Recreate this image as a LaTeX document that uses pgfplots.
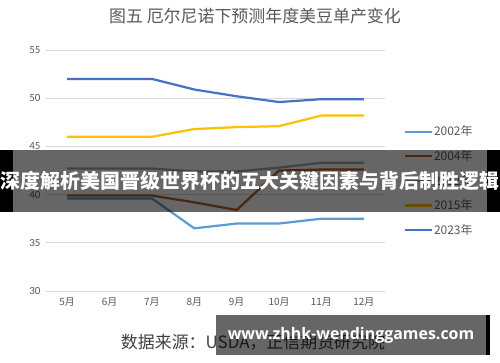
\documentclass[border=0pt]{standalone}
\usepackage{pgfplots}
\pgfplotsset{compat=1.18}
\usepackage{fontspec}
\setmainfont{Carlito}
\newfontfamily\cjk{Noto Sans CJK SC}
\newfontfamily\wm{Open Sans}
\definecolor{c2002}{HTML}{5B9BD5}
\definecolor{c2004}{HTML}{B4602A}
\definecolor{c2012}{HTML}{A5A5A5}
\definecolor{c2015}{HTML}{FFC000}
\definecolor{c2023}{HTML}{4472C4}
\definecolor{tick}{HTML}{595959}
\definecolor{gridc}{HTML}{D9D9D9}
\begin{document}
\begin{tikzpicture}[x=1bp,y=1bp]
\useasboundingbox (0,0) rectangle (500,362);
\fill[white] (0,0) rectangle (500,362);
\begin{axis}[
  at={(46bp,71bp)}, anchor=south west,
  scale only axis, width=339bp, height=241bp,
  xmin=-0.5, xmax=7.5, ymin=30, ymax=55,
  xtick={0,...,7},
  xticklabels={5月,6月,7月,8月,9月,10月,11月,12月},
  ytick={30,35,40,45,50,55},
  axis line style={draw=none},
  tick style={draw=none},
  ymajorgrids, grid style={gridc, line width=0.8bp},
  ticklabel style={font=\cjk\fontsize{10}{12}\selectfont, text=tick},
  yticklabel style={font=\fontsize{11}{13}\selectfont, xshift=-2bp},
  xticklabel style={yshift=-3bp},
  /pgf/number format/assume math mode=true,
  legend style={at={(1.055,0.69)}, anchor=north west, draw=none, fill=none,
    font=\cjk\fontsize{12}{14}\selectfont, text=tick, row sep=11bp, inner sep=0pt,
    nodes={inner sep=1pt}},
  legend cell align=left,
  legend image code/.code={\draw[#1, line width=2.2bp] (0bp,0bp) -- (27bp,0bp);},
  every axis plot/.append style={line width=2.2bp, mark=none},
]
\addplot[c2002] coordinates {(0,39.6) (1,39.6) (2,39.6) (3,36.5) (4,37.0) (5,37.0) (6,37.5) (7,37.5)};
\addlegendentry{2002年}
\addplot[c2004] coordinates {(0,39.9) (1,39.9) (2,39.9) (3,39.2) (4,38.4) (5,42.5) (6,42.6) (7,42.6)};
\addlegendentry{2004年}
\addplot[c2012] coordinates {(0,42.7) (1,42.7) (2,42.7) (3,42.4) (4,42.4) (5,42.8) (6,43.3) (7,43.3)};
\addlegendentry{2012年}
\addplot[c2015] coordinates {(0,46.0) (1,46.0) (2,46.0) (3,46.8) (4,47.0) (5,47.1) (6,48.2) (7,48.2)};
\addlegendentry{2015年}
\addplot[c2023] coordinates {(0,52.0) (1,52.0) (2,52.0) (3,50.9) (4,50.2) (5,49.6) (6,49.9) (7,49.9)};
\addlegendentry{2023年}
\end{axis}
\node[text=black!65, font=\cjk\fontsize{17}{20}\selectfont] at (255,346) {图五\ 厄尔尼诺下预测年度美豆单产变化};
\node[text=black!75, font=\cjk\fontsize{17}{20}\selectfont] at (253,20) {数据来源：USDA，正信期货研究院};
% banner overlay
\fill[black] (0,150) rectangle (13,212);
\fill[black] (487,150) rectangle (500,212);
\fill[black, opacity=0.6] (13,150) rectangle (487,212);
\node[text=white, font=\cjk\bfseries\fontsize{20}{24}\selectfont] at (250,181) {深度解析美国晋级世界杯的五大关键因素与背后制胜逻辑};
% watermark
\fill[black, opacity=0.6] (216,7) rectangle (486,47);
\fill[black] (486,7) rectangle (490,47);
\node[text=white, font=\wm\bfseries\fontsize{16}{19}\selectfont] at (351,27) {www.zhhk-wendinggames.com};
\end{tikzpicture}
\end{document}
